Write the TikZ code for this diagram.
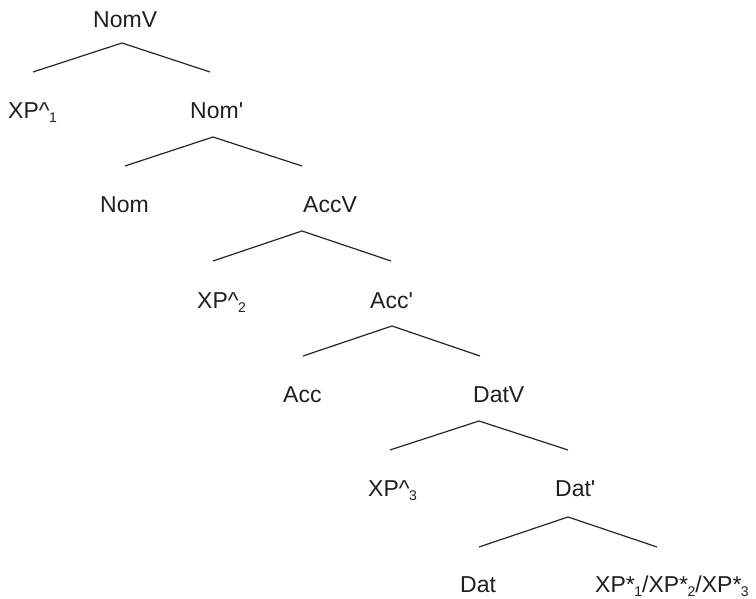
\documentclass[tikz,border=0pt]{standalone}
\usepackage{fontspec}
\setmainfont{Liberation Sans}[Ligatures=TeXOff]
\newcommand{\sbs}[1]{\kern-0.5pt\raisebox{-3.5pt}{\fontsize{14}{14}\selectfont #1}}
\begin{document}
\begin{tikzpicture}[x=1pt,y=1pt,
  lbl/.style={inner sep=0pt,anchor=base west,font=\fontsize{23}{26}\selectfont,text=black!88},
  branch/.style={line width=1.2pt,draw=black!85}]
\useasboundingbox (0,0) rectangle (756,599);
% labels (y = 599 - baseline px)
\node[lbl] (nomv) at (93,571.5) {NomV};
\node[lbl] (xp1) at (8,480) {XP\textasciicircum\sbs{1}};
\node[lbl] (nomb) at (190,480) {Nom'};
\node[lbl] (nom) at (100,386) {Nom};
\node[lbl] (accv) at (303,386) {AccV};
\node[lbl] (xp2) at (197,290) {XP\textasciicircum\sbs{2}};
\node[lbl] (accb) at (370,290) {Acc'};
\node[lbl] (acc) at (283,196) {Acc};
\node[lbl] (datv) at (473,196) {DatV};
\node[lbl] (xp3) at (368,102) {XP\textasciicircum\sbs{3}};
\node[lbl] (datb) at (555,102) {Dat'};
\node[lbl] (dat) at (460,6) {Dat};
\node[lbl] (xps) at (595,6) {XP*\sbs{1}/XP*\sbs{2}/XP*\sbs{3}};
% branch points
\coordinate (a1) at (122,556); \coordinate (l1) at (33,527); \coordinate (r1) at (210,527);
\coordinate (a2) at (213,462); \coordinate (l2) at (125,433); \coordinate (r2) at (302,433);
\coordinate (a3) at (302,368); \coordinate (l3) at (213,338); \coordinate (r3) at (391,338);
\coordinate (a4) at (392,273); \coordinate (l4) at (303,243); \coordinate (r4) at (480,243);
\coordinate (a5) at (479,178); \coordinate (l5) at (390,149); \coordinate (r5) at (568,149);
\coordinate (a6) at (568,82);  \coordinate (l6) at (479,52);  \coordinate (r6) at (657,52);
\foreach \i in {1,...,6}{\draw[branch] (l\i) -- (a\i) -- (r\i);}
\end{tikzpicture}
\end{document}
